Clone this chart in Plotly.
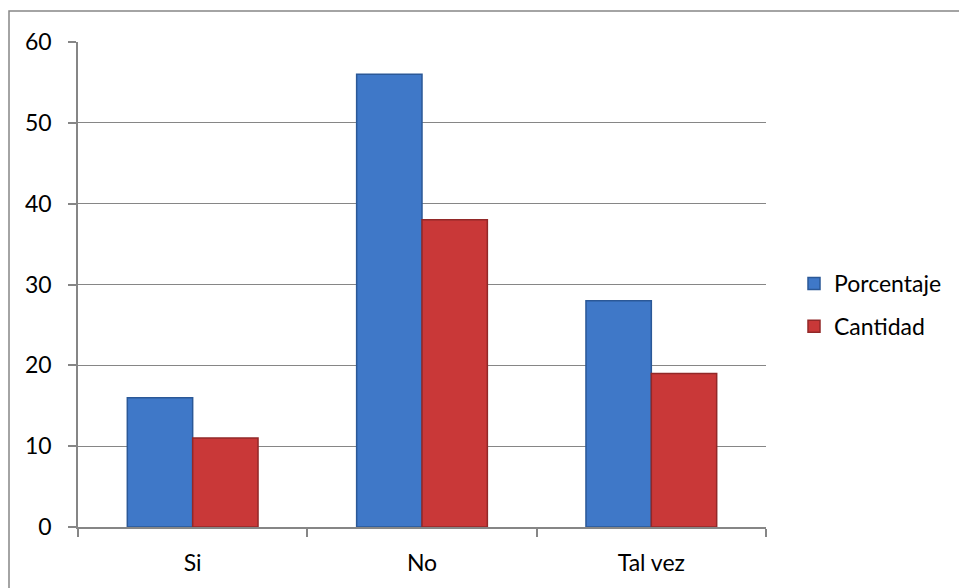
import plotly.graph_objects as go

categories = ["Si", "No", "Tal vez"]
porcentaje = [16, 56, 28]
cantidad = [11, 38, 19]
y_ticks = [0, 10, 20, 30, 40, 50, 60]

W, H = 959, 588
L, R, T, B = 78, 193, 42, 61
pw, ph = W - L - R, H - T - B

fig = go.Figure()
fig.add_trace(go.Bar(
    x=categories, y=porcentaje, name="Porcentaje", legendgroup="a",
    marker=dict(color="#3F78C8", line=dict(color="#2B5897", width=1.5)),
))
fig.add_trace(go.Bar(
    x=categories, y=cantidad, name="Cantidad", legendgroup="b",
    marker=dict(color="#C93838", line=dict(color="#922828", width=1.5)),
))

font = dict(family="Lato, Carlito, 'Open Sans', sans-serif", size=23, color="#000000")

fig.update_layout(
    width=W, height=H,
    margin=dict(l=L, r=R, t=T, b=B),
    paper_bgcolor="white", plot_bgcolor="white",
    barmode="group", bargap=0.43, bargroupgap=0,
    font=font,
    showlegend=True,
    legend=dict(
        x=(794 - L) / pw, y=(H - B - 305) / ph, xanchor="left", yanchor="middle",
        font=font, tracegroupgap=10, itemwidth=30, bgcolor="rgba(0,0,0,0)",
    ),
    xaxis=dict(
        showline=True, linecolor="#868686", linewidth=1.5,
        ticks="outside", tickson="boundaries", ticklen=8, tickcolor="#868686",
        tickwidth=1.5, ticklabelstandoff=15, showgrid=False,
    ),
    yaxis=dict(
        range=[0, 60], tickvals=y_ticks, showline=True, linecolor="#868686",
        linewidth=1.5, ticks="outside", ticklen=8, tickcolor="#868686", tickwidth=1.5,
        showgrid=True, gridcolor="#868686", gridwidth=1.3, zeroline=False,
        ticklabelstandoff=12,
    ),
    shapes=[dict(
        type="rect", xref="paper", yref="paper",
        x0=(9 - L) / pw, x1=(W + 10 - L) / pw,
        y0=-(B + 10) / ph, y1=1 + (T - 11) / ph,
        line=dict(color="#868686", width=1.5), fillcolor="rgba(0,0,0,0)", layer="below",
    )],
)

fig.write_html("out.html")
